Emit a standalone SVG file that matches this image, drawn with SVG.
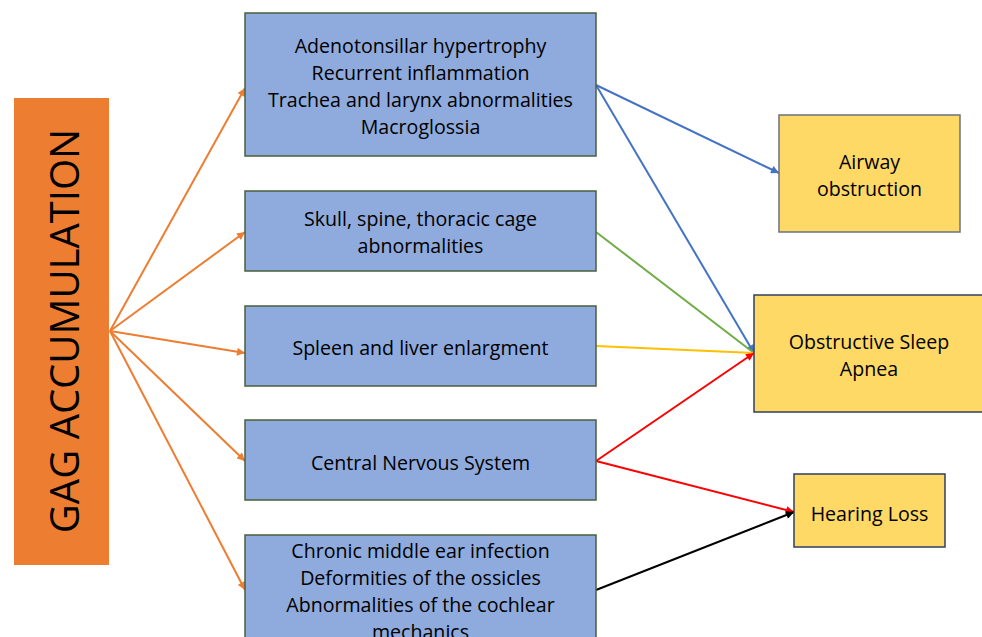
<svg xmlns="http://www.w3.org/2000/svg" width="982" height="637" viewBox="0 0 982 637">
<defs>
<style>
text{font-family:"Open Sans","Liberation Sans",sans-serif;fill:#000;text-anchor:middle;dominant-baseline:central}
.t{font-size:19.6px}
.blue{fill:#8FAADC;stroke:#4A5F3C;stroke-width:1.5}
.yel{fill:#FFD966;stroke:#6B7080;stroke-width:1.5}
.c{fill:none;stroke-width:2}
</style>
<marker id="aO" viewBox="0 0 10 10" refX="10" refY="5" markerWidth="9" markerHeight="8" markerUnits="userSpaceOnUse" orient="auto"><path d="M0,0L10,5L0,10z" fill="#ED7D31"/></marker>
<marker id="aB" viewBox="0 0 10 10" refX="10" refY="5" markerWidth="9" markerHeight="8" markerUnits="userSpaceOnUse" orient="auto"><path d="M0,0L10,5L0,10z" fill="#4472C4"/></marker>
<marker id="aR" viewBox="0 0 10 10" refX="10" refY="5" markerWidth="9" markerHeight="8" markerUnits="userSpaceOnUse" orient="auto"><path d="M0,0L10,5L0,10z" fill="#FF0000"/></marker>
<marker id="aK" viewBox="0 0 10 10" refX="10" refY="5" markerWidth="9" markerHeight="8" markerUnits="userSpaceOnUse" orient="auto"><path d="M0,0L10,5L0,10z" fill="#000"/></marker>
</defs>
<rect width="982" height="637" fill="#fff"/>
<g id="connectors">
<line class="c" stroke="#ED7D31" x1="110" y1="331" x2="245" y2="88" marker-end="url(#aO)"/>
<line class="c" stroke="#ED7D31" x1="110" y1="331" x2="245" y2="232" marker-end="url(#aO)"/>
<line class="c" stroke="#ED7D31" x1="110" y1="331" x2="245" y2="353" marker-end="url(#aO)"/>
<line class="c" stroke="#ED7D31" x1="110" y1="331" x2="245" y2="461" marker-end="url(#aO)"/>
<line class="c" stroke="#ED7D31" x1="110" y1="331" x2="245" y2="590" marker-end="url(#aO)"/>
<line class="c" stroke="#4472C4" x1="596" y1="85" x2="779" y2="173" marker-end="url(#aB)"/>
<line class="c" stroke="#4472C4" x1="596" y1="85" x2="754" y2="353" marker-end="url(#aB)"/>
<line class="c" stroke="#70AD47" x1="596" y1="232" x2="754" y2="353"/>
<line class="c" stroke="#FFC000" x1="596" y1="346" x2="754" y2="353"/>
<line class="c" stroke="#FF0000" x1="596" y1="461" x2="754" y2="353" marker-end="url(#aR)"/>
<line class="c" stroke="#FF0000" x1="596" y1="461" x2="794" y2="512" marker-end="url(#aR)"/>
<line class="c" stroke="#000" x1="596" y1="590" x2="794" y2="512" marker-end="url(#aK)"/>
</g>
<g id="gag">
<rect x="14" y="98" width="95" height="467" fill="#ED7D31"/>
<text transform="translate(63,331) rotate(-90)" font-size="40">GAG ACCUMULATION</text>
</g>
<g id="n1">
<rect class="blue" x="245" y="13" width="351" height="143"/>
<text class="t" x="420.5" y="45">Adenotonsillar hypertrophy</text>
<text class="t" x="420.5" y="72">Recurrent inflammation</text>
<text class="t" x="420.5" y="99">Trachea and larynx abnormalities</text>
<text class="t" x="420.5" y="126">Macroglossia</text>
</g>
<g id="n2">
<rect class="blue" x="245" y="191" width="351" height="80"/>
<text class="t" x="420.5" y="218">Skull, spine, thoracic cage</text>
<text class="t" x="420.5" y="245">abnormalities</text>
</g>
<g id="n3">
<rect class="blue" x="245" y="306" width="351" height="80"/>
<text class="t" x="420.5" y="347">Spleen and liver enlargment</text>
</g>
<g id="n4">
<rect class="blue" x="245" y="420" width="351" height="80"/>
<text class="t" x="420.5" y="462">Central Nervous System</text>
</g>
<g id="n5">
<rect class="blue" x="245" y="535" width="351" height="120"/>
<text class="t" x="420.5" y="550">Chronic middle ear infection</text>
<text class="t" x="420.5" y="577">Deformities of the ossicles</text>
<text class="t" x="420.5" y="604">Abnormalities of the cochlear</text>
<text class="t" x="420.5" y="631">mechanics</text>
</g>
<g id="airway">
<rect class="yel" x="779" y="115" width="181" height="117"/>
<text class="t" x="869.5" y="161">Airway</text>
<text class="t" x="869.5" y="188">obstruction</text>
</g>
<g id="osa">
<rect class="yel" x="754" y="295" width="240" height="117" style="stroke:#2F3F5F"/>
<text class="t" x="869" y="341">Obstructive Sleep</text>
<text class="t" x="869" y="368">Apnea</text>
</g>
<g id="hearing">
<rect class="yel" x="794" y="474" width="151" height="73" style="stroke:#2F3F5F"/>
<text class="t" x="869.5" y="513">Hearing Loss</text>
</g>
</svg>
